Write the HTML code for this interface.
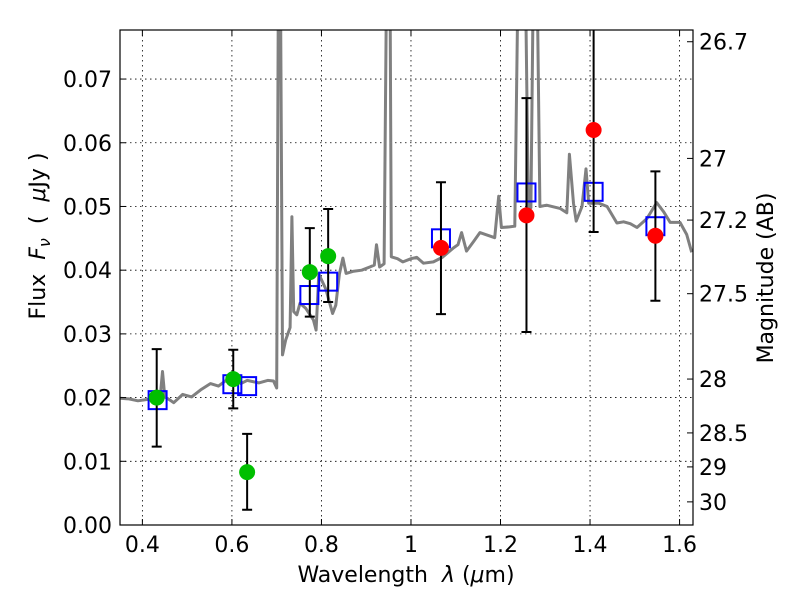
<!DOCTYPE html>
<html><head><meta charset="utf-8">
<style>
body{margin:0;background:#fff;}
svg text{font-family:"DejaVu Sans","Liberation Sans",sans-serif;fill:#000;white-space:pre;}
</style></head>
<body>
<svg id="chart" width="800" height="600" viewBox="0 0 800 600" xmlns="http://www.w3.org/2000/svg" xml:space="preserve">
<defs><clipPath id="clip"><rect x="120" y="30" width="573" height="495"/></clipPath></defs>
<rect x="0" y="0" width="800" height="600" fill="#fff"/>
<g id="grid"></g>
<g id="spec" clip-path="url(#clip)"></g>
<g id="marks" clip-path="url(#clip)"></g>
<rect x="120" y="30" width="573" height="495" fill="none" stroke="#000" stroke-width="1.2"/>
<g id="axes"></g>
<text x="406" y="582" text-anchor="middle" font-size="22">Wavelength  <tspan font-style="italic">λ</tspan> (<tspan font-style="italic">μ</tspan>m)</text>
<text transform="translate(45,236) rotate(-90)" text-anchor="middle" font-size="22">Flux  <tspan font-style="italic">F</tspan><tspan font-style="italic" font-size="16" dy="5">ν</tspan><tspan dy="-5">  (  </tspan><tspan font-style="italic">μ</tspan>Jy )</text>
<text transform="translate(773,278) rotate(-90)" text-anchor="middle" font-size="22">Magnitude (AB)</text>
</svg>
<script>
const xTicks=[0.4,0.6,0.8,1.0,1.2,1.4,1.6];
const xTickLabels=["0.4","0.6","0.8","1","1.2","1.4","1.6"];
const yTicks=[0,0.01,0.02,0.03,0.04,0.05,0.06,0.07];
const yTickLabels=["0.00","0.01","0.02","0.03","0.04","0.05","0.06","0.07"];
const magTicks=[26.7,27,27.2,27.5,28,28.5,29,30];
const magTickLabels=["26.7","27","27.2","27.5","28","28.5","29","30"];
const specWave=[0.35,0.37,0.39,0.41,0.43,0.44,0.445,0.45,0.46,0.47,0.49,0.51,0.53,0.552,0.57,0.585,0.604,0.62,0.634,0.66,0.68,0.693,0.700,0.704,0.708,0.713,0.72,0.73,0.734,0.738,0.745,0.752,0.765,0.782,0.788,0.794,0.81,0.825,0.832,0.840,0.848,0.855,0.870,0.89,0.908,0.918,0.923,0.930,0.94,0.946,0.95,0.953,0.956,0.97,0.982,1.0,1.013,1.028,1.050,1.07,1.095,1.105,1.113,1.124,1.14,1.154,1.17,1.187,1.196,1.202,1.22,1.232,1.240,1.247,1.255,1.262,1.268,1.274,1.281,1.288,1.303,1.333,1.348,1.354,1.363,1.369,1.382,1.391,1.397,1.42,1.438,1.460,1.475,1.490,1.505,1.527,1.549,1.564,1.579,1.601,1.616,1.627];
const specFlux=[0.0199,0.0198,0.0195,0.0197,0.0199,0.0203,0.0241,0.0201,0.0197,0.0192,0.0205,0.0201,0.0212,0.0222,0.0218,0.0226,0.0230,0.0222,0.0227,0.0223,0.0227,0.0226,0.0215,0.09,0.09,0.0267,0.0290,0.0310,0.0484,0.0335,0.0330,0.0348,0.0340,0.0322,0.0306,0.0394,0.0370,0.0332,0.0345,0.0394,0.0419,0.0395,0.0398,0.0400,0.0405,0.0408,0.0440,0.0405,0.0410,0.09,0.09,0.09,0.0421,0.0418,0.0413,0.0418,0.0420,0.0411,0.0413,0.0420,0.0435,0.0440,0.0459,0.0430,0.0445,0.0459,0.0455,0.0451,0.0516,0.0467,0.0468,0.0469,0.09,0.09,0.09,0.0500,0.0498,0.09,0.09,0.0500,0.0502,0.0497,0.0490,0.0582,0.0505,0.0477,0.0500,0.0559,0.0505,0.0505,0.0500,0.0474,0.0476,0.0473,0.0467,0.0481,0.0506,0.0492,0.0475,0.0475,0.0456,0.0428];
const greenWave=[0.432,0.603,0.634,0.774,0.815];
const greenFlux=[0.0200,0.0229,0.0083,0.0397,0.0422];
const greenHi=[0.0276,0.0275,0.0143,0.0466,0.0496];
const greenLo=[0.0123,0.0183,0.0024,0.0327,0.0350];
const redWave=[1.067,1.258,1.408,1.546];
const redFlux=[0.0435,0.0486,0.0620,0.0454];
const redHi=[0.0538,0.0670,0.0800,0.0555];
const redLo=[0.0331,0.0303,0.0460,0.0352];
const modelWave=[0.434,0.601,0.634,0.773,0.815,1.067,1.258,1.408,1.546];
const modelFlux=[0.0196,0.0221,0.0218,0.0361,0.0382,0.0450,0.0522,0.0523,0.0469];

const NS="http://www.w3.org/2000/svg";
const X0=120,X1=693,Y0=525,Y1=30,xmin=0.35,xmax=1.63,ymin=0,ymax=0.0777;
function sx(v){return X0+(v-xmin)/(xmax-xmin)*(X1-X0);}
function sy(v){return Y0-(v-ymin)/(ymax-ymin)*(Y0-Y1);}
function magToFlux(m){return Math.pow(10,(23.9-m)/2.5);}
function mk(tag,attrs,parent){const e=document.createElementNS(NS,tag);for(const k in attrs)e.setAttribute(k,attrs[k]);parent.appendChild(e);return e;}
const grid=document.getElementById('grid'),axes=document.getElementById('axes'),spec=document.getElementById('spec'),marks=document.getElementById('marks');

xTicks.forEach((t,i)=>{
  const x=sx(t);
  const g=mk('line',{x1:x,x2:x,y1:Y1,y2:Y0,stroke:'#000','stroke-width':0.8,'stroke-dasharray':'1.5,3.5'},grid);
  
  
  const tk=mk('path',{d:`M${x},${Y0}v-6M${x},${Y1}v6`,stroke:'#000','stroke-width':1},axes);
  
  
  const tx=mk('text',{x:x,y:552,'text-anchor':'middle','font-size':22},axes);
  tx.textContent=xTickLabels[i];
  
  
});
yTicks.forEach((t,i)=>{
  const y=sy(t);
  if(t>0){
    const g=mk('line',{x1:X0,x2:X1,y1:y,y2:y,stroke:'#000','stroke-width':0.8,'stroke-dasharray':'1.5,3.5'},grid);
    
    
  }
  const tk=mk('path',{d:`M${X0},${y}h6`,stroke:'#000','stroke-width':1},axes);
  
  
  const tx=mk('text',{x:112,y:y+8,'text-anchor':'end','font-size':22},axes);
  tx.textContent=yTickLabels[i];
  
  
});
magTicks.forEach((m,i)=>{
  const y=sy(magToFlux(m));
  const tk=mk('path',{d:`M${X1},${y}h-6`,stroke:'#000','stroke-width':1},axes);
  
  
  const tx=mk('text',{x:699,y:y+8,'text-anchor':'start','font-size':22},axes);
  tx.textContent=magTickLabels[i];
  
  
});

let d='';
specWave.forEach((w,i)=>{d+=(i?'L':'M')+sx(w).toFixed(1)+','+sy(specFlux[i]).toFixed(1);});
const sp=mk('path',{d:d,fill:'none',stroke:'#808080','stroke-width':3,'stroke-linejoin':'round'},spec);



function errbar(w,lo,hi){
  const x=sx(w),a=sy(lo),b=sy(hi);
  const e=mk('path',{d:`M${x},${a}V${b}M${x-5},${a}h10M${x-5},${b}h10`,stroke:'#000','stroke-width':2,fill:'none'},marks);
  
  
}
modelWave.forEach((w,i)=>{
  const r=mk('rect',{x:sx(w)-9,y:sy(modelFlux[i])-9,width:18,height:18,fill:'none',stroke:'#0000ff','stroke-width':2},marks);
  
  
});
greenWave.forEach((w,i)=>{
  errbar(w,greenLo[i],greenHi[i]);
  const c=mk('circle',{cx:sx(w),cy:sy(greenFlux[i]),r:8,fill:'#00bf00'},marks);
  
  
});
redWave.forEach((w,i)=>{
  errbar(w,redLo[i],redHi[i]);
  const c=mk('circle',{cx:sx(w),cy:sy(redFlux[i]),r:8,fill:'#ff0000'},marks);
  
  
});
</script>
</body></html>
